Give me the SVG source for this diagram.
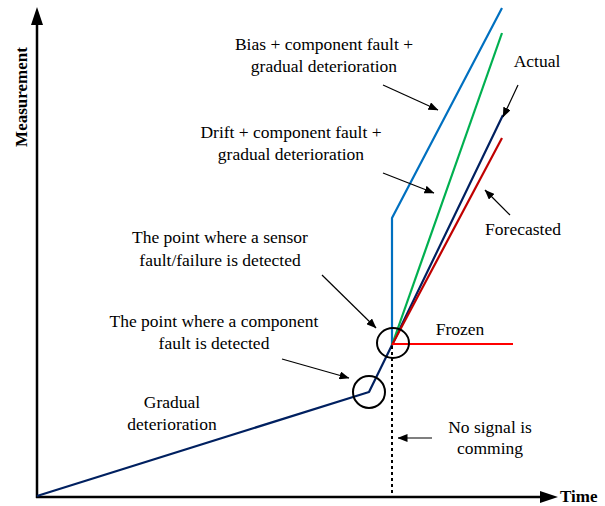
<svg xmlns="http://www.w3.org/2000/svg" width="605" height="506" viewBox="0 0 605 506" font-family="'Liberation Serif', 'DejaVu Serif', serif">
<style>
text{font-family:'Liberation Serif','Times New Roman','DejaVu Serif',serif;font-size:17.5px;fill:#000}
.c{text-anchor:middle}
.b{font-weight:bold;font-size:17px}
.ax{stroke:#000;stroke-width:2.5;fill:none}
.ar{stroke:#000;stroke-width:1.2;fill:none;marker-end:url(#ah)}
.ln{stroke-width:2.2;fill:none;stroke-linejoin:round}
.ci{stroke:#000;stroke-width:2;fill:none}
</style>
<defs>
<marker id="ah" viewBox="0 0 10 8" refX="9.5" refY="4" markerWidth="10" markerHeight="8" markerUnits="userSpaceOnUse" orient="auto">
<path d="M0,0 L10,4 L0,8 Z" fill="#000"/>
</marker>
</defs>
<g id="axes">
<line class="ax" x1="37" y1="498" x2="37" y2="22"/>
<polygon points="37,7 31,25 43,25" fill="#000"/>
<line class="ax" x1="36" y1="497" x2="543" y2="497"/>
<polygon points="558,497 540,491 540,503" fill="#000"/>
<text class="b" x="560" y="502">Time</text>
<text class="b c" transform="translate(27,97) rotate(-90)">Measurement</text>
</g>
<g id="connectors">
<polyline class="ln" stroke="#002060" points="37,496 369,392 392,345 503,115"/>
<polyline class="ln" stroke="#0070C0" points="392,345 392,218 502,8"/>
<line class="ln" stroke="#00B050" x1="392" y1="345" x2="502" y2="33"/>
<line class="ln" stroke="#C00000" x1="392" y1="345" x2="502" y2="138"/>
<line class="ln" stroke="#FF0000" x1="392" y1="344" x2="513" y2="344"/>
<line stroke="#000" stroke-width="2" stroke-dasharray="3,3" x1="392" y1="346" x2="392" y2="496"/>
<line class="ar" x1="383" y1="85" x2="438" y2="110"/>
<line class="ar" x1="383" y1="173" x2="434" y2="193"/>
<line class="ar" x1="518" y1="85" x2="503" y2="117"/>
<line class="ar" x1="510" y1="215" x2="485" y2="190"/>
<line class="ar" x1="322" y1="275" x2="376" y2="328"/>
<line class="ar" x1="282" y1="359" x2="349" y2="378"/>
<line class="ar" x1="432" y1="438" x2="398" y2="438"/>
</g>
<g id="circle-sensor"><ellipse class="ci" cx="393" cy="343" rx="16" ry="15"/></g>
<g id="circle-component"><circle class="ci" cx="369" cy="392" r="16"/></g>
<g id="label-bias"><text class="c" x="324" y="50">Bias + component fault +</text><text class="c" x="324" y="72">gradual deterioration</text></g>
<g id="label-drift"><text class="c" x="291" y="138">Drift + component fault +</text><text class="c" x="291" y="160">gradual deterioration</text></g>
<g id="label-actual"><text class="c" x="537" y="67">Actual</text></g>
<g id="label-forecasted"><text class="c" x="523" y="235">Forecasted</text></g>
<g id="label-sensor"><text class="c" x="220" y="243">The point where a sensor</text><text class="c" x="220" y="266">fault/failure is detected</text></g>
<g id="label-component"><text class="c" x="214" y="327">The point where a component</text><text class="c" x="214" y="349">fault is detected</text></g>
<g id="label-frozen"><text class="c" x="460" y="335">Frozen</text></g>
<g id="label-gradual"><text class="c" x="172" y="408">Gradual</text><text class="c" x="172" y="430">deterioration</text></g>
<g id="label-nosignal"><text class="c" x="490" y="433">No signal is</text><text class="c" x="490" y="454">comming</text></g>
</svg>
